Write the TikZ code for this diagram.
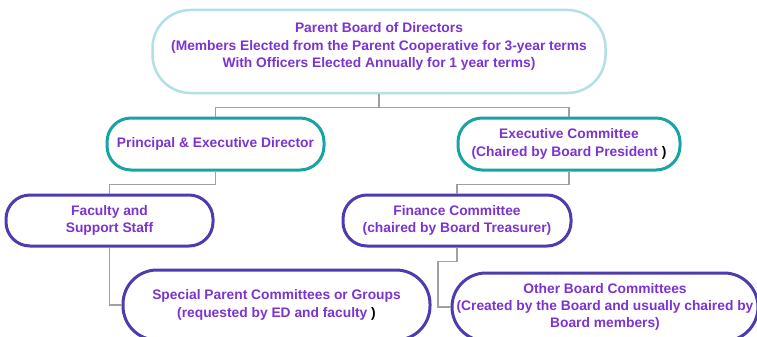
\documentclass[tikz,border=0pt]{standalone}
\usepackage{fontspec}
\setmainfont{Liberation Sans}
\definecolor{txtpurple}{RGB}{124,52,208}
\definecolor{lightcyan}{RGB}{178,224,228}
\definecolor{tealb}{RGB}{24,164,164}
\definecolor{indigob}{RGB}{76,60,176}
\definecolor{conngray}{RGB}{160,160,160}
\tikzset{
  box/.style={rectangle, align=center, font=\bfseries\fontsize{13.8}{17.3}\selectfont, text=txtpurple, fill=white, inner sep=0pt},
  topbox/.style={box, draw=lightcyan, line width=2.5pt, rounded corners=38pt},
  tealbox/.style={box, draw=tealb, line width=3pt, rounded corners=24pt},
  indbox/.style={box, draw=indigob, line width=3pt, rounded corners=24pt},
  bigbox/.style={box, draw=indigob, line width=3pt, rounded corners=34pt},
  conn/.style={draw=conngray, line width=1.3pt},
}
\begin{document}
\begin{tikzpicture}[x=1pt,y=1pt]
\useasboundingbox (0,0) rectangle (757,-337);
\clip (0,0) rectangle (757,-337);
\node[topbox, minimum width=453, minimum height=83] (top) at (379,-51.5)
  {Parent Board of Directors\\(Members Elected from the Parent Cooperative for 3-year terms\\With Officers Elected Annually for 1 year terms)\\[-4.5pt]};
\node[tealbox, minimum width=217, minimum height=52] (prin) at (215.5,-144) {Principal \& Executive Director};
\node[tealbox, minimum width=222, minimum height=52] (exec) at (569,-144) {Executive Committee\\(Chaired by Board President {\color{black})}};
\node[indbox, minimum width=207, minimum height=51] (fac) at (109.5,-220.5) {Faculty and\\Support Staff};
\node[indbox, minimum width=228, minimum height=51] (fin) at (457,-220.5) {Finance Committee\\(chaired by Board Treasurer)};
\node[bigbox, minimum width=307, minimum height=70] (spec) at (276.5,-305) {Special Parent Committees or Groups\\(requested by ED and faculty {\color{black})}};
\node[bigbox, minimum width=306, minimum height=68] (oth) at (605,-307) {Other Board Committees\\(Created by the Board and usually chaired by\\Board members)};
\draw[conn] (top.south) -- ++(0,-13) coordinate (j1);
\draw[conn] (j1) -| (prin.north);
\draw[conn] (j1) -| (exec.north);
\draw[conn] (prin.south) -- ++(0,-13) -| (fac.north);
\draw[conn] (exec.south) -- ++(0,-13) -| (fin.north);
\draw[conn] (fac.south) |- (spec.west);
\draw[conn] (fin.south) -- ++(0,-14) -- ++(-19,0) |- (oth.west);
\end{tikzpicture}
\end{document}
